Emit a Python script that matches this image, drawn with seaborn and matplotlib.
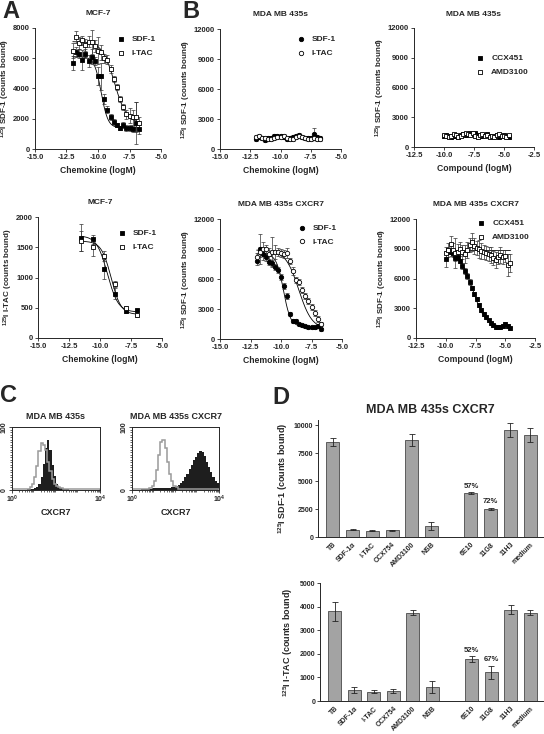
import numpy as np
import matplotlib
matplotlib.use('Agg')
import matplotlib.pyplot as plt
import seaborn as sns

sns.set_style('ticks')
plt.rcParams['font.family'] = ['Liberation Sans', 'DejaVu Sans']
plt.rcParams['font.weight'] = 'bold'
plt.rcParams['axes.labelweight'] = 'bold'
plt.rcParams['axes.titleweight'] = 'bold'
plt.rcParams['mathtext.fontset'] = 'custom'
plt.rcParams['mathtext.rm'] = 'Liberation Sans:bold'
plt.rcParams['mathtext.bf'] = 'Liberation Sans:bold'
plt.rcParams['mathtext.default'] = 'rm'

# ---- data: panel A / B chemokine competition (logM) ----
chemo_x = [-12.0, -11.75, -11.5, -11.25, -11.0, -10.75, -10.5, -10.25, -10.0, -9.75, -9.5,
           -9.25, -9.0, -8.75, -8.5, -8.25, -8.0, -7.75, -7.5, -7.25, -7.0, -6.75]
# MCF-7, 125I SDF-1
mcf_sdf = [5700, 6400, 6300, 5900, 6300, 5800, 6100, 5800, 4800, 4800, 3300,
           2600, 2100, 1800, 1600, 1400, 1600, 1400, 1400, 1350, 1700, 1300]
mcf_sdf_err = [450, 350, 300, 650, 300, 400, 500, 250, 600, 900, 350,
               250, 200, 200, 150, 150, 200, 200, 200, 200, 1400, 300]
mcf_itac = [6500, 7400, 7000, 7200, 6900, 7100, 7100, 6800, 6500, 6400, 6000,
            5900, 5300, 4600, 4100, 3300, 2800, 2300, 2200, 2100, 2100, 1700]
mcf_itac_err = [500, 400, 400, 300, 400, 350, 800, 400, 900, 500, 300,
                300, 250, 200, 200, 200, 200, 300, 500, 500, 1000, 400]
mcf_fit = {'SDF-1': (1400, 6100, -9.75, 1.6), 'I-TAC': (1700, 7100, -8.7, 0.9)}

# MDA MB 435s, 125I SDF-1
mda_sdf = [1000, 1200, 1100, 950, 1100, 1150, 1300, 1300, 1300, 1200, 1000,
           1100, 1200, 1300, 1400, 1200, 1100, 1100, 1100, 1500, 1200, 1100]
mda_sdf_err = [200] * 19 + [600, 200, 200]
mda_itac = [1200, 1300, 1100, 1100, 1000, 1050, 1150, 1200, 1250, 1300, 1100,
            1000, 1050, 1200, 1300, 1200, 1100, 1050, 1000, 1100, 1050, 1000]
mda_itac_err = [200] * 22

# MDA MB 435s CXCR7, 125I SDF-1
cx_sdf = [7800, 9000, 8500, 8200, 7700, 7600, 7200, 6900, 6200, 5300, 4300,
          2500, 1800, 1800, 1500, 1400, 1300, 1200, 1200, 1200, 1300, 1000]
cx_sdf_err = [400, 1500, 600, 400, 300, 300, 300, 300, 300, 300, 300,
              200, 200, 200, 150, 150, 150, 150, 150, 150, 200, 150]
cx_itac = [8200, 8700, 9000, 9000, 8500, 8700, 8700, 8700, 8600, 8500, 8600,
           7800, 6800, 5900, 5700, 4900, 4300, 3800, 3200, 2600, 2000, 1500]
cx_itac_err = [400, 500, 700, 400, 600, 1500, 700, 400, 400, 400, 500,
               300, 400, 300, 300, 300, 300, 300, 300, 300, 300, 200]
cx_fit = {'SDF-1': (1250, 8500, -9.8, 1.5), 'I-TAC': (1000, 8900, -8.55, 0.8)}

# MCF-7, 125I I-TAC (bottom A)
itac_x = [-11.5, -10.6, -9.7, -8.8, -7.9, -7.0]
mcf2_sdf = [1660, 1630, 1140, 730, 440, 455]
mcf2_sdf_err = [220, 70, 170, 90, 30, 30]
mcf2_itac = [1600, 1500, 1360, 890, 500, 385]
mcf2_itac_err = [170, 150, 80, 50, 30, 30]
mcf2_fit = {'SDF-1': (430, 1690, -9.4, 1.0), 'I-TAC': (390, 1600, -9.1, 1.1)}

# compounds (logM)
comp_x = [-10.0, -9.8, -9.6, -9.4, -9.2, -9.0, -8.8, -8.6, -8.4, -8.2, -8.0, -7.8, -7.6, -7.4,
          -7.2, -7.0, -6.8, -6.6, -6.4, -6.2, -6.0, -5.8, -5.6, -5.4, -5.2, -5.0, -4.8, -4.6]
mda_ccx = [1100, 1200, 1100, 1000, 1100, 1100, 1000, 1200, 1300, 1200, 1300, 1400, 1300, 1400,
           1200, 1100, 1100, 1200, 1300, 1100, 1000, 1100, 1200, 1000, 1100, 1200, 1100, 1000]
mda_amd = [1200, 1100, 1000, 1100, 1300, 1200, 1000, 1100, 1300, 1400, 1300, 1200, 1400, 1100,
           1000, 1200, 1300, 1100, 1200, 1000, 1100, 1000, 1200, 1300, 1100, 1100, 1000, 1200]
mda_comp_err = [150] * 28
cx_ccx = [8000, 8900, 8700, 8600, 8100, 8200, 7800, 7300, 6800, 6300, 5600, 5000, 4400, 3900,
          3300, 2800, 2400, 2100, 1800, 1500, 1300, 1100, 1100, 1100, 1200, 1400, 1200, 1000]
cx_ccx_err = [800, 300, 400, 300, 300, 300, 200, 300, 300, 300, 300, 200, 200, 200,
              200, 200, 200, 150, 150, 150, 150, 150, 150, 150, 200, 200, 200, 150]
cx_amd = [8600, 8900, 9500, 8900, 8600, 8700, 9000, 8700, 8500, 8900, 9400, 9700, 9300, 9100,
          9000, 8800, 8700, 8600, 8500, 8400, 8100, 7900, 8200, 8400, 8200, 8300, 7400, 7600]
cx_amd_err = [600, 700, 800, 700, 1500, 800, 700, 700, 900, 800, 700, 900, 800, 700,
              900, 800, 700, 700, 700, 800, 700, 800, 700, 800, 700, 600, 1100, 900]
comp_fit = {'CCX451': (1100, 8700, -7.75, 0.8)}
amd_flat = 8900

# ---- panel C: flow histograms, 40 bins over 4 decades ----
hist_edges = [round(0.1 * i, 1) for i in range(41)]
iso_left = [1, 1, 2, 1, 1, 2, 1, 2, 4, 9, 20, 38, 62, 74, 72, 63, 45, 30, 18, 10,
            6, 4, 3, 2, 2, 1, 1, 1, 2, 1, 1, 1, 1, 2, 1, 1, 1, 1, 1, 1]
cxcr7_left = [0, 0, 0, 0, 0, 0, 0, 1, 1, 2, 3, 5, 9, 20, 42, 66, 79, 64, 40, 22,
              10, 5, 3, 2, 1, 1, 0, 0, 0, 0, 0, 0, 0, 0, 0, 0, 0, 0, 0, 0]
iso_right = [1, 1, 2, 1, 1, 2, 1, 2, 3, 6, 15, 32, 56, 76, 80, 66, 44, 26, 14, 7,
             4, 2, 2, 1, 1, 1, 1, 1, 1, 1, 1, 1, 1, 1, 1, 1, 1, 1, 1, 1]
cxcr7_right = [0, 0, 0, 0, 1, 1, 2, 2, 2, 3, 3, 3, 3, 3, 3, 3, 3, 3, 4, 5,
               6, 8, 11, 15, 20, 26, 33, 40, 47, 53, 58, 62, 60, 54, 45, 36, 28, 21, 15, 11]

# ---- panel D: bars ----
bar_order = ['TB', 'SDF-1α', 'I-TAC', 'CCX754', 'AMD3100', 'NSB', '', '6E10', '11G8', '11H3', 'medium']
bar_labels = ['TB', 'SDF-1α', 'I-TAC', 'CCX754', 'AMD3100', 'NSB', '6E10', '11G8', '11H3', 'medium']
sdf_bars = [8450, 650, 550, 600, 8650, 950, 3900, 2500, 9550, 9100]
sdf_bars_err = [350, 50, 40, 50, 550, 350, 80, 120, 600, 600]
sdf_pct = {'6E10': '57%', '11G8': '72%'}
itac_bars = [3800, 450, 400, 420, 3750, 580, 1780, 1220, 3870, 3750]
itac_bars_err = [400, 130, 60, 70, 120, 250, 110, 280, 180, 120]
itac_pct = {'6E10': '52%', '11G8': '67%'}

W, H = 544, 734
fig = plt.figure(figsize=(W / 100, H / 100), dpi=100)


def box(l, t, r, b):
    return fig.add_axes([l / W, 1 - b / H, (r - l) / W, (b - t) / H])


def style(ax):
    sns.despine(ax=ax)
    ax.tick_params(labelsize=5.5, length=2, width=0.6, pad=1.5)
    for s in ['left', 'bottom']:
        ax.spines[s].set_linewidth(0.7)


def curve(ax, xs, ys, err, marker, filled, label, fit=None, flat=None):
    xs = np.array(xs)
    if fit is not None:
        bot, top, ic50, hill = fit
        gx = np.linspace(xs.min(), xs.max(), 200)
        gy = bot + (top - bot) / (1 + 10 ** ((gx - ic50) * hill))
        sns.lineplot(x=gx, y=gy, color='black', lw=0.6, ax=ax)
    if flat is not None:
        ax.plot([xs.min(), xs.max()], [flat, flat], color='black', lw=0.6)
    ax.errorbar(xs, ys, yerr=err, fmt='none', ecolor='#333333', elinewidth=0.5,
                capsize=1.5, capthick=0.5)
    sns.scatterplot(x=xs, y=ys, marker=marker, s=10,
                    color='black' if filled else 'white', edgecolor='black',
                    linewidth=0.6, label=label, ax=ax, zorder=3)


def comp_axes(ax, title, xlabel, ylabel, xlim, xticks, ylim, yticks, leg_y=1.0):
    style(ax)
    ax.set_xlim(*xlim)
    ax.set_xticks(xticks)
    ax.set_xticklabels([f'{t:.1f}' for t in xticks])
    ax.set_ylim(*ylim)
    ax.set_yticks(yticks)
    ax.set_xlabel(xlabel, fontsize=6.2, labelpad=4)
    ax.set_ylabel(ylabel, fontsize=5.8, labelpad=0.5)
    ax.set_title(title, fontsize=6, pad=9)
    ax.legend(loc='upper right', bbox_to_anchor=(1.0, leg_y), frameon=False, fontsize=6,
              handletextpad=0.3, markerscale=1.0, borderaxespad=0.2, labelspacing=0.7)


ylab_sdf = r'$^{125}$I SDF-1 (counts bound)'
ylab_itac = r'$^{125}$I I-TAC (counts bound)'
chem_ticks = [-15.0, -12.5, -10.0, -7.5, -5.0]
comp_ticks = [-12.5, -10.0, -7.5, -5.0, -2.5]

# A top
ax = box(35, 28, 161, 149)
curve(ax, chemo_x, mcf_sdf, mcf_sdf_err, 's', True, 'SDF-1', mcf_fit['SDF-1'])
curve(ax, chemo_x, mcf_itac, mcf_itac_err, 's', False, 'I-TAC', mcf_fit['I-TAC'])
comp_axes(ax, 'MCF-7', 'Chemokine (logM)', ylab_sdf, (-15, -5), chem_ticks,
          (0, 8000), [0, 2000, 4000, 6000, 8000], 0.98)

# B top middle
ax = box(220, 29, 341, 149)
curve(ax, chemo_x, mda_sdf, mda_sdf_err, 'o', True, 'SDF-1')
curve(ax, chemo_x, mda_itac, mda_itac_err, 'o', False, 'I-TAC')
comp_axes(ax, 'MDA MB 435s', 'Chemokine (logM)', ylab_sdf, (-15, -5), chem_ticks,
          (0, 12000), [0, 3000, 6000, 9000, 12000], 0.99)

# B top right
ax = box(414, 28, 534, 147)
curve(ax, comp_x, mda_ccx, mda_comp_err, 's', True, 'CCX451')
curve(ax, comp_x, mda_amd, mda_comp_err, 's', False, 'AMD3100')
comp_axes(ax, 'MDA MB 435s', 'Compound (logM)', ylab_sdf, (-12.5, -2.5), comp_ticks,
          (0, 12000), [0, 3000, 6000, 9000, 12000], 0.82)

# A bottom
ax = box(38, 217, 162, 338)
curve(ax, itac_x, mcf2_sdf, mcf2_sdf_err, 's', True, 'SDF-1', mcf2_fit['SDF-1'])
curve(ax, itac_x, mcf2_itac, mcf2_itac_err, 's', False, 'I-TAC', mcf2_fit['I-TAC'])
comp_axes(ax, 'MCF-7', 'Chemokine (logM)', ylab_itac, (-15, -5), chem_ticks,
          (0, 2000), [0, 500, 1000, 1500, 2000], 0.94)

# B bottom middle
ax = box(220, 219, 342, 339)
curve(ax, chemo_x, cx_sdf, cx_sdf_err, 'o', True, 'SDF-1', cx_fit['SDF-1'])
curve(ax, chemo_x, cx_itac, cx_itac_err, 'o', False, 'I-TAC', cx_fit['I-TAC'])
comp_axes(ax, 'MDA MB 435s CXCR7', 'Chemokine (logM)', ylab_sdf, (-15, -5), chem_ticks,
          (0, 12000), [0, 3000, 6000, 9000, 12000])

# B bottom right
ax = box(416, 219, 535, 338)
curve(ax, comp_x, cx_ccx, cx_ccx_err, 's', True, 'CCX451', comp_fit['CCX451'])
curve(ax, comp_x, cx_amd, cx_amd_err, 's', False, 'AMD3100', flat=amd_flat)
comp_axes(ax, 'MDA MB 435s CXCR7', 'Compound (logM)', ylab_sdf, (-12.5, -2.5), comp_ticks,
          (0, 12000), [0, 3000, 6000, 9000, 12000], 1.04)

# C histograms
for (l, r), iso, pos, title in [((12, 100), iso_left, cxcr7_left, 'MDA MB 435s'),
                                ((132, 219), iso_right, cxcr7_right, 'MDA MB 435s CXCR7')]:
    ax = box(l, 427, r, 490)
    ax.stairs(pos, hist_edges, fill=True, color='#1e1e1e')
    ax.stairs(iso, hist_edges, color='#9a9a9a', linewidth=1.1)
    ax.set_xlim(0, 4)
    ax.set_ylim(0, 100)
    ax.set_xticks([0, 4])
    ax.set_xticklabels(['$10^0$', '$10^4$'])
    minors = [np.log10(k) + d for d in range(4) for k in range(2, 10)]
    ax.set_xticks(minors, minor=True)
    ax.set_yticks([0, 100])
    ax.set_yticklabels(['0', '100'], rotation=90, va='center')
    ax.set_yticks(np.arange(0, 100, 4), minor=True)
    ax.tick_params(labelsize=5, length=2, width=0.6, pad=1)
    ax.tick_params(which='minor', length=1.2, width=0.5)
    ax.set_xlabel('CXCR7', fontsize=6.5, labelpad=2)
    ax.set_title(title, fontsize=6.5, pad=6)
    for s in ax.spines.values():
        s.set_linewidth(0.7)


# D bars
def bar_panel(ax, vals, errs, pct, ylim, yticks, ylabel):
    sns.barplot(x=bar_labels, y=vals, order=bar_order, color='#a3a3a3', saturation=1,
                edgecolor='#4a4a4a', linewidth=0.6, width=0.66, ax=ax)
    pos = [bar_order.index(b) for b in bar_labels]
    ax.errorbar(pos, vals, yerr=errs, fmt='none', ecolor='#222222', elinewidth=0.6,
                capsize=2.2, capthick=0.6)
    for k, t in pct.items():
        i = bar_labels.index(k)
        ax.text(bar_order.index(k), vals[i] + errs[i] + ylim[1] * 0.02, t,
                ha='center', va='bottom', fontsize=5.5)
    sns.despine(ax=ax)
    ax.set_xlim(-0.75, 10.65)
    ax.set_ylim(*ylim)
    ax.set_yticks(yticks)
    ax.set_xticks(pos)
    ax.set_xticklabels(bar_labels, rotation=45, ha='right', rotation_mode='anchor')
    ax.tick_params(axis='y', labelsize=5, length=2, width=0.6, pad=1.5)
    ax.tick_params(axis='x', labelsize=5, length=0, pad=3)
    ax.set_ylabel(ylabel, fontsize=6.5, labelpad=3)
    for s in ['left', 'bottom']:
        ax.spines[s].set_linewidth(0.7)


ax = box(318, 420, 543, 537)
bar_panel(ax, sdf_bars, sdf_bars_err, sdf_pct, (0, 10450), [0, 2500, 5000, 7500, 10000], ylab_sdf)
ax.set_title('MDA MB 435s CXCR7', fontsize=9, pad=5, x=0.5)

ax = box(320, 583, 543, 701)
bar_panel(ax, itac_bars, itac_bars_err, itac_pct, (0, 5000), [0, 1000, 2000, 3000, 4000, 5000], ylab_itac)

# panel letters
for txt, x, y in [('A', 2, 0), ('B', 182, 0), ('C', 0, 384), ('D', 272, 386)]:
    fig.text(x / W, 1 - y / H, txt, fontsize=17, fontweight='bold', va='top', ha='left')

fig.savefig('out.png', dpi=100)
